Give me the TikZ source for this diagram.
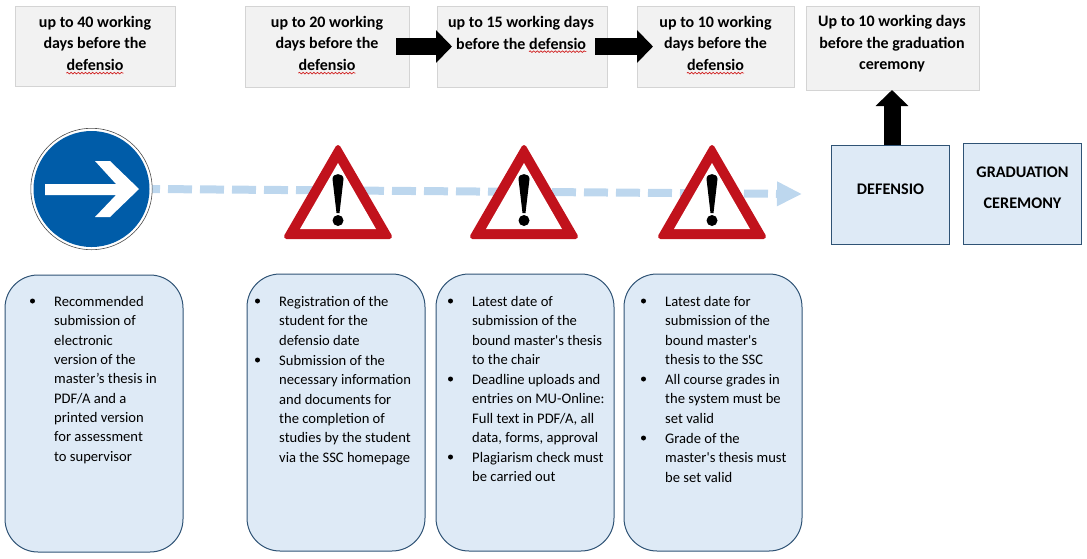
\documentclass[tikz,border=0pt]{standalone}
\usepackage{fontspec}
\setmainfont{Carlito}[Ligatures=TeXOff]
\usetikzlibrary{arrows.meta,decorations.pathmorphing}
\definecolor{hdrfill}{HTML}{F2F2F2}
\definecolor{hdrline}{HTML}{D4D4D4}
\definecolor{bluefill}{HTML}{DEEAF6}
\definecolor{blueline}{HTML}{2F5375}
\definecolor{dashblue}{HTML}{BDD7EE}
\definecolor{signblue}{HTML}{005CA8}
\definecolor{signred}{HTML}{C1121C}
\definecolor{spell}{HTML}{D02020}
\tikzset{
  x=1pt,y=-1pt,
  hdrbox/.style={draw=hdrline,fill=hdrfill,line width=1pt,inner sep=0pt,outer sep=0pt},
  bluebox/.style={draw=blueline,fill=bluefill,line width=1pt,inner sep=0pt,outer sep=0pt},
  roundbox/.style={bluebox,rounded corners=33pt},
  hdrtext/.style={font=\fontsize{16}{21.5}\selectfont\bfseries,align=center,inner sep=0pt,text depth=0pt},
  blocktext/.style={font=\fontsize{16.2}{31}\selectfont\bfseries,align=center,inner sep=0pt},
  listtext/.style={font=\fontsize{14.6}{19.35}\selectfont,align=left,anchor=north west,inner sep=0pt},
  bulletdot/.style={circle,fill=black,inner sep=0pt,minimum size=5pt},
  bigarrow/.style={line width=17pt,black,-{Triangle[length=16pt,width=32pt]}},
  wavy/.style={draw=spell,line width=0.7pt,decorate,decoration={snake,amplitude=0.8pt,segment length=3.6pt}}
}
\newcommand{\boxat}[5]{\node[#1,minimum width=#4pt,minimum height=#5pt] (#2) at (#3) {};}
\newcommand{\warnsign}[2]{%
  \begin{scope}[shift={(#2,0)}]
    \coordinate (#1) at (0,195);
    \fill[signred,draw=signred,line width=5pt,line join=round] (0,147.5) -- (51.5,236.5) -- (-51.5,236.5) -- cycle;
    \fill[white] (0,163) -- (38,229) -- (-38,229) -- cycle;
    \fill[black] (-5.5,179) .. controls (-5.5,172.5) and (5.5,172.5) .. (5.5,179) -- (1.5,213) -- (-1.5,213) -- cycle;
    \fill[black] (0,220.5) circle[radius=5.5];
  \end{scope}}
\begin{document}
\begin{tikzpicture}
\useasboundingbox (0,0) rectangle (1087,558);
% header boxes
\boxat{hdrbox}{ha}{95,46}{160}{80}
\boxat{hdrbox}{hb}{327,46.5}{164}{81}
\boxat{hdrbox}{hc}{522,46.5}{170}{81}
\boxat{hdrbox}{hd}{715.5,46.5}{157}{81}
\boxat{hdrbox}{he}{893,48}{173.5}{84}
% lower blocks
\boxat{bluebox}{def}{890.5,194.5}{118}{99}
\boxat{bluebox}{grad}{1022.5,193.5}{118}{101}
\boxat{roundbox}{ra}{94,413.5}{178}{277}
\boxat{roundbox}{rb}{336,412.5}{178}{277}
\boxat{roundbox}{rc}{525,412.5}{178}{277}
\boxat{roundbox}{rd}{713,412.5}{178}{277}
% header text
\node[hdrtext] (tah) at (95,43) {up to 40 working\\days before the\\\strut};
\node[hdrtext] (ta) at (95,65) {defensio};
\node[hdrtext] (tbh) at (327,43) {up to 20 working\\days before the\\\strut};
\node[hdrtext] (tb) at (327,65) {defensio};
\node[hdrtext] (tch) at (521,22) {up to 15 working days};
\node[hdrtext,anchor=west] (tci) at (456,43.5) {before the};
\node[hdrtext,anchor=west] (tc) at (529,43.5) {defensio};
\node[hdrtext] (tdh) at (715.5,43) {up to 10 working\\days before the\\\strut};
\node[hdrtext] (td) at (715.5,65) {defensio};
\node[hdrtext] (te) at (892,42.5) {Up to 10 working days\\before the graduation\\ceremony};
\node[blocktext,yshift=5pt] (tdef) at (def.center) {DEFENSIO};
\node[blocktext,yshift=6pt] (tgrad) at (grad.center) {GRADUATION\\CEREMONY};
\foreach \n in {ta,tb,tc,td}{\draw[wavy] ([yshift=-2.5pt]\n.base west) -- ([yshift=-2.5pt]\n.base east);}
% timeline
\coordinate (tlend) at (802,194);
\draw[dashblue,line width=8pt,dash pattern=on 24pt off 8pt,dash phase=16pt,-{Triangle[length=25pt,width=23pt]}] (152,189) -- (tlend);
% signs
\fill[white,draw=black!70,line width=0.6pt] (91.5,189) circle[radius=60.7];
\fill[signblue] (91.5,189) circle[radius=58];
\fill[white] (45,184) -- (116,184) -- (95,161) -- (110,161) -- (139,189) -- (110,217) -- (95,217) -- (116,195) -- (45,195) -- cycle;
\warnsign{wa}{338}
\warnsign{wb}{524}
\warnsign{wc}{712}
% black arrows
\draw[bigarrow] ([xshift=-13pt]hb.east) -- ([xshift=15pt]hc.west);
\draw[bigarrow] ([xshift=-12pt]hc.east) -- ([xshift=16pt]hd.west);
\draw[bigarrow] ([xshift=1.5pt]def.north) -- ([xshift=-1pt]he.south);
% lists
\node[bulletdot] (b1) at (32.5,301) {};
\node[listtext] (l1) at (54,296) {Recommended\\submission of\\electronic\\version of the\\master’s thesis in\\PDF/A and a\\printed version\\for assessment\\to supervisor};
\node[bulletdot] (b2) at (257.5,301) {};
\node[listtext] (l2) at (279,296) {Registration of the\\student for the\\defensio date};
\node[bulletdot] (b3) at (257.5,360) {};
\node[listtext] (l3) at (279,355) {Submission of the\\necessary information\\and documents for\\the completion of\\studies by the student\\via the SSC homepage};
\node[bulletdot] (b4) at (450.5,301) {};
\node[listtext] (l4) at (472,296) {Latest date of\\submission of the\\bound master's thesis\\to the chair};
\node[bulletdot] (b5) at (450.5,379) {};
\node[listtext] (l5) at (472,374) {Deadline uploads and\\entries on MU-Online:\\Full text in PDF/A, all\\data, forms, approval};
\node[bulletdot] (b6) at (450.5,457) {};
\node[listtext] (l6) at (472,452) {Plagiarism check must\\be carried out};
\node[bulletdot] (b7) at (643.5,301) {};
\node[listtext] (l7) at (665,296) {Latest date for\\submission of the\\bound master's\\thesis to the SSC};
\node[bulletdot] (b8) at (643.5,379) {};
\node[listtext] (l8) at (665,374) {All course grades in\\the system must be\\set valid};
\node[bulletdot] (b9) at (643.5,438) {};
\node[listtext] (l9) at (665,433) {Grade of the\\master's thesis must\\be set valid};
\end{tikzpicture}
\end{document}
